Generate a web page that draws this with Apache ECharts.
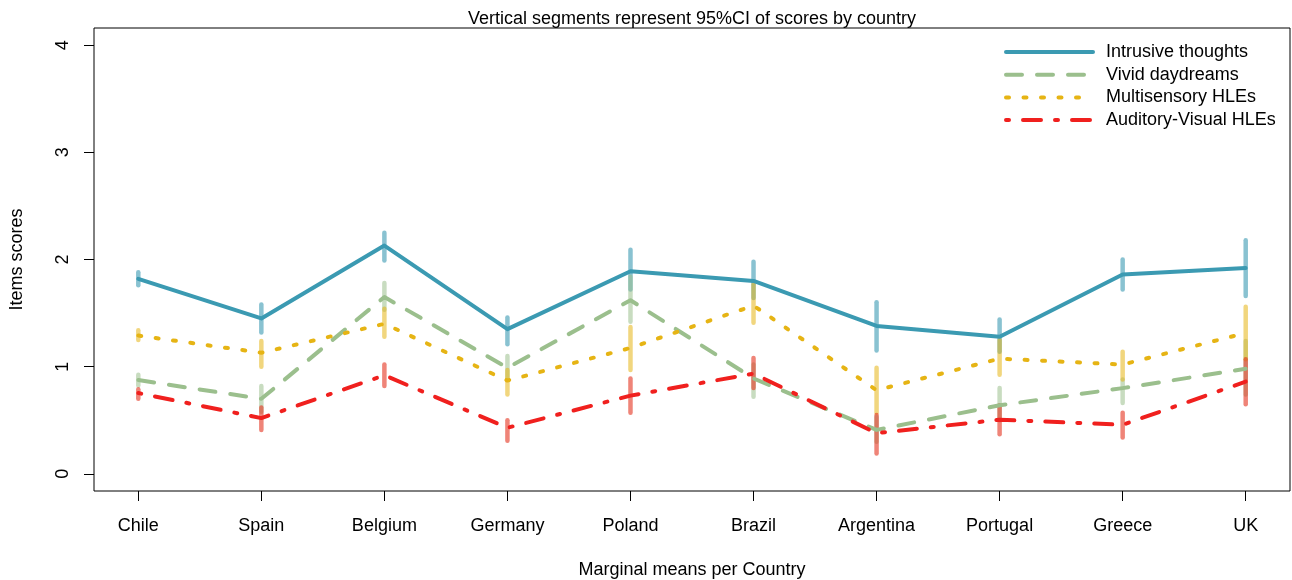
<!DOCTYPE html>
<html>
<head>
<meta charset="utf-8">
<script src="https://cdn.jsdelivr.net/npm/echarts@6/dist/echarts.min.js"></script>
<style>html,body{margin:0;padding:0;background:#fff}#c{width:1292px;height:580px}</style>
</head>
<body>
<div id="c"></div>
<script>
const countries = ['Chile','Spain','Belgium','Germany','Poland','Brazil','Argentina','Portugal','Greece','UK'];
const yTicks = [0, 1, 2, 3, 4];

const intrusive   = [1.82, 1.45, 2.13, 1.35, 1.89, 1.80, 1.38, 1.28, 1.86, 1.92];
const intrusiveLo = [1.76, 1.32, 1.99, 1.21, 1.72, 1.64, 1.15, 1.14, 1.72, 1.66];
const intrusiveHi = [1.88, 1.58, 2.25, 1.46, 2.09, 1.98, 1.60, 1.44, 2.00, 2.18];

const vivid   = [0.875, 0.70, 1.65, 0.99, 1.62, 0.89, 0.41, 0.64, 0.80, 0.98];
const vividLo = [0.825, 0.58, 1.53, 0.88, 1.42, 0.72, 0.30, 0.50, 0.66, 0.74];
const vividHi = [0.925, 0.82, 1.78, 1.10, 1.84, 1.02, 0.53, 0.80, 0.88, 1.24];

const multi   = [1.29, 1.13, 1.40, 0.87, 1.175, 1.57, 0.78, 1.075, 1.02, 1.315];
const multiLo = [1.25, 1.00, 1.28, 0.74, 0.97, 1.41, 0.57, 0.925, 0.88, 1.07];
const multiHi = [1.34, 1.24, 1.54, 0.97, 1.37, 1.77, 0.99, 1.25, 1.14, 1.56];

const audvis   = [0.754, 0.52, 0.92, 0.43, 0.73, 0.935, 0.38, 0.505, 0.458, 0.86];
const audvisLo = [0.70, 0.41, 0.82, 0.31, 0.57, 0.80, 0.19, 0.37, 0.34, 0.65];
const audvisHi = [0.79, 0.62, 1.02, 0.50, 0.89, 1.08, 0.55, 0.64, 0.57, 1.07];

const FONT = 'Liberation Sans, Arial, sans-serif';

const groups = [
  {name:'Intrusive thoughts', v:intrusive, lo:intrusiveLo, hi:intrusiveHi, color:'#3b9ab2', ci:'rgba(59,154,178,0.6)', type:'solid'},
  {name:'Vivid daydreams', v:vivid, lo:vividLo, hi:vividHi, color:'#9bbf8d', ci:'rgba(155,191,141,0.55)', type:[16,15]},
  {name:'Multisensory HLEs', v:multi, lo:multiLo, hi:multiHi, color:'#e6b414', ci:'rgba(230,180,20,0.55)', type:[3,14.5]},
  {name:'Auditory-Visual HLEs', v:audvis, lo:audvisLo, hi:audvisHi, color:'#f0201e', ci:'rgba(228,50,30,0.6)', type:[3,14,18,14]}
];

const series = [];
groups.forEach(function(g){
  series.push({
    name: g.name + ' CI',
    type: 'custom',
    silent: true,
    z: 2,
    data: countries.map(function(c, i){ return [i + 1, g.lo[i], g.hi[i]]; }),
    renderItem: function(params, api){
      const x = api.value(0);
      const p1 = api.coord([x, api.value(1)]);
      const p2 = api.coord([x, api.value(2)]);
      return {type:'line', shape:{x1:p1[0], y1:p1[1], x2:p2[0], y2:p2[1]},
              style:{stroke:g.ci, lineWidth:4.5, lineCap:'round'}};
    }
  });
});
groups.forEach(function(g){
  series.push({
    name: g.name,
    type: 'line',
    z: 3,
    symbol: 'none',
    color: g.color,
    lineStyle: {color:g.color, width:4, type:g.type, cap:'round', join:'round'},
    data: countries.map(function(c, i){ return [i + 1, g.v[i]]; })
  });
});

const chart = echarts.init(document.getElementById('c'), null, {renderer:'canvas'});
chart.setOption({
  animation: false,
  backgroundColor: '#fff',
  textStyle: {fontFamily: FONT, color:'#000'},
  title: {
    text: 'Vertical segments represent 95%CI of scores by country',
    left: 692, top: 10, textAlign: 'center', padding: 0,
    textStyle: {fontFamily: FONT, fontSize: 18, fontWeight: 'normal', color: '#000'}
  },
  legend: {
    orient: 'vertical',
    left: 1004, top: 43, padding: 0,
    itemWidth: 87, itemHeight: 14, itemGap: 4.7,
    data: groups.map(function(g){ return g.name; }),
    itemStyle: {color:'transparent', borderColor:'transparent', borderWidth:0, opacity:0},
    lineStyle: {width: 4, cap: 'round'},
    textStyle: {fontFamily: FONT, fontSize: 18, color:'#000', padding:[0,0,0,8], lineHeight: 18},
    selectedMode: false
  },
  grid: {left: 94, right: 2, top: 28, bottom: 89, show: true, borderColor: '#000', borderWidth: 1,
         backgroundColor:'transparent', outerBoundsMode: 'none', containLabel: false},
  xAxis: {
    type: 'value', min: 0.64, max: 10.36,
    splitLine: {show:false},
    axisLine: {show:false, onZero:false},
    axisTick: {show:true, length:10, lineStyle:{color:'#000'}, customValues: countries.map(function(c,i){return i+1;})},
    axisLabel: {fontFamily: FONT, fontSize: 18, color:'#000', margin: 26,
      customValues: countries.map(function(c,i){return i+1;}),
      formatter: function(v){ return countries[Math.round(v) - 1] || ''; }},
    name: 'Marginal means per Country', nameLocation: 'middle', nameGap: 70,
    nameTextStyle: {fontFamily: FONT, fontSize: 18, color:'#000'}
  },
  yAxis: {
    type: 'value', min: -0.16, max: 4.16,
    splitLine: {show:false},
    axisLine: {show:false, onZero:false},
    axisTick: {show:true, length:10, lineStyle:{color:'#000'}, customValues: yTicks},
    axisLabel: {fontFamily: FONT, fontSize: 18, color:'#000', rotate: 90, margin: 22, customValues: yTicks},
    name: 'Items scores', nameLocation: 'middle', nameGap: 68, nameRotate: 90,
    nameTextStyle: {fontFamily: FONT, fontSize: 18, color:'#000'}
  },
  series: series
});
</script>
</body>
</html>
